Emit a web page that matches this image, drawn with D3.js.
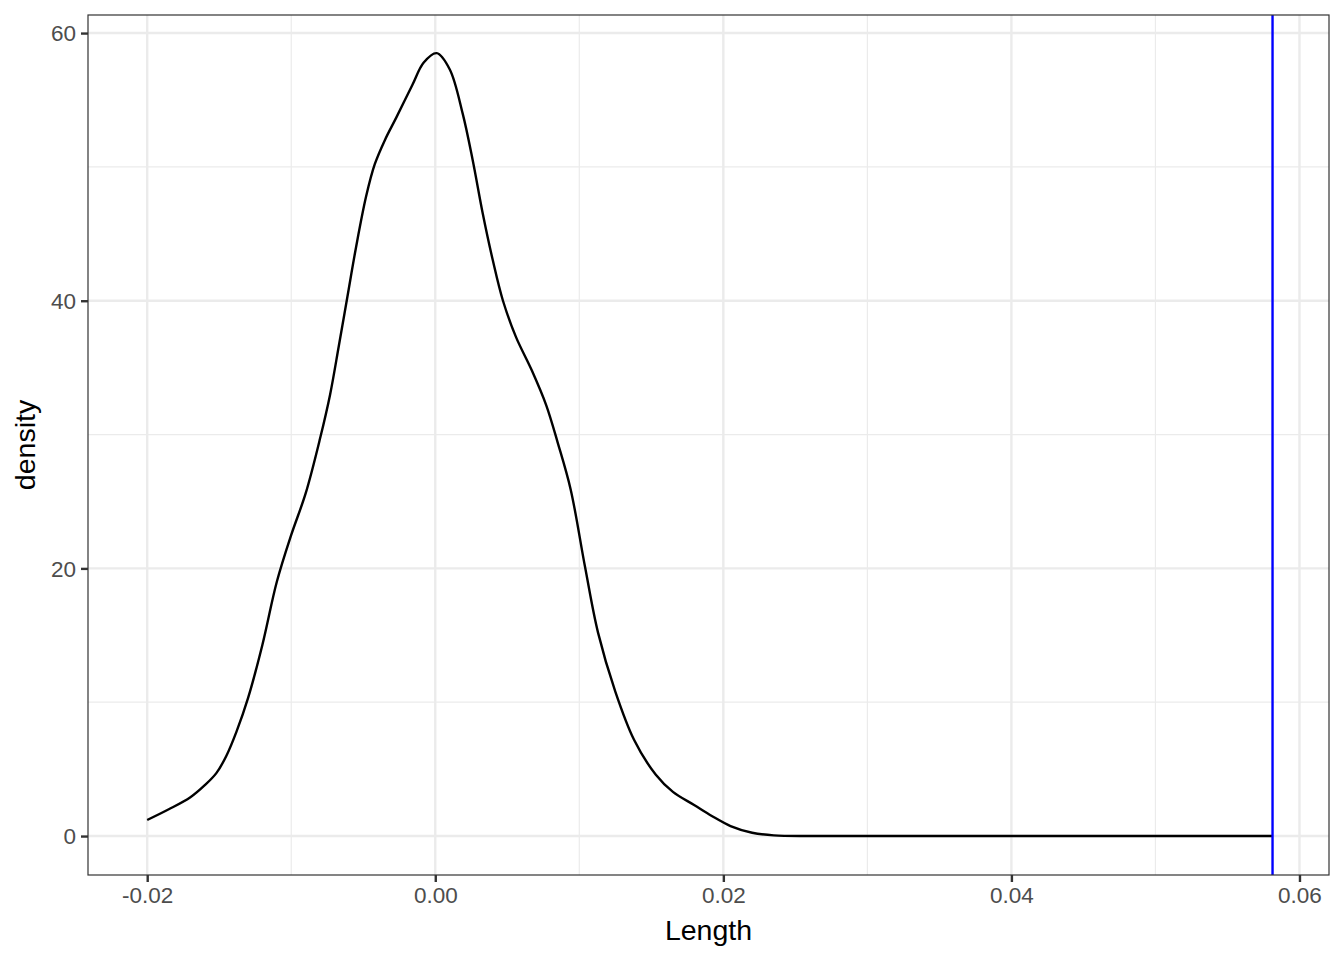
<!DOCTYPE html>
<html>
<head>
<meta charset="utf-8">
<script src="https://cdn.jsdelivr.net/npm/d3@7"></script>
<style>
  body { margin: 0; background: #fff; }
  text { font-family: "Liberation Sans", Arial, sans-serif; }
</style>
</head>
<body>
<div id="main"></div>
<script>
// density estimate
var lengthX = [-0.0200, -0.0185, -0.0170, -0.0160, -0.0152, -0.0145, -0.0138, -0.0130, -0.0120, -0.0110,
  -0.0100, -0.0090, -0.0080, -0.0073, -0.0067, -0.0061, -0.0055, -0.0048, -0.0042, -0.0035,
  -0.0027, -0.0016, -0.0008, 0.0001, 0.0010, 0.0019, 0.0026, 0.0033, 0.0040,
  0.0047, 0.0056, 0.0067, 0.0077, 0.0085, 0.0094, 0.0104, 0.0113, 0.0125, 0.0138,
  0.0153, 0.0165, 0.0180, 0.0192, 0.0205, 0.0220, 0.0235, 0.0260, 0.0300, 0.0400,
  0.0500, 0.0581]
var densityY = [1.2, 2.0, 2.9, 3.8, 4.7, 6.0, 7.8, 10.3, 14.3, 19.0,
  22.5, 25.6, 29.7, 33.0, 36.6, 40.3, 44.0, 47.8, 50.2, 52.0,
  53.7, 56.1, 57.8, 58.5, 57.3, 54.0, 50.5, 46.5, 43.0,
  40.0, 37.3, 34.8, 32.2, 29.4, 25.9, 20.1, 15.2, 10.8, 7.2,
  4.6, 3.3, 2.3, 1.5, 0.75, 0.25, 0.05, 0, 0, 0,
  0, 0]
var observed = 0.05813

var xTicks = [-0.02, 0.00, 0.02, 0.04, 0.06]
var xMinor = [-0.01, 0.01, 0.03, 0.05]
var yTicks = [0, 20, 40, 60]
var yMinor = [10, 30, 50]

var W = 1344, H = 960
var margin = { top: 15, left: 88, right: 15, bottom: 85 }
var w = W - margin.left - margin.right,
    h = H - margin.top - margin.bottom

var x = d3.scaleLinear().domain([-0.02411, 0.06205]).range([0, w])
var y = d3.scaleLinear().domain([-2.91, 61.35]).range([h, 0])

var svg = d3.select("#main")
  .append("svg")
  .attr("width", W)
  .attr("height", H)

var g = svg.append("g")
  .attr("transform", "translate(" + margin.left + "," + margin.top + ")")

// minor grid
g.selectAll(".xminor").data(xMinor).enter().append("line")
  .attr("x1", d => x(d)).attr("x2", d => x(d))
  .attr("y1", 0).attr("y2", h)
  .attr("stroke", "#ebebeb").attr("stroke-width", 1.2)
g.selectAll(".yminor").data(yMinor).enter().append("line")
  .attr("y1", d => y(d)).attr("y2", d => y(d))
  .attr("x1", 0).attr("x2", w)
  .attr("stroke", "#ebebeb").attr("stroke-width", 1.2)

// major grid
g.selectAll(".xmajor").data(xTicks).enter().append("line")
  .attr("x1", d => x(d)).attr("x2", d => x(d))
  .attr("y1", 0).attr("y2", h)
  .attr("stroke", "#ebebeb").attr("stroke-width", 2.4)
g.selectAll(".ymajor").data(yTicks).enter().append("line")
  .attr("y1", d => y(d)).attr("y2", d => y(d))
  .attr("x1", 0).attr("x2", w)
  .attr("stroke", "#ebebeb").attr("stroke-width", 2.4)

// density curve
var pts = lengthX.map(function(v, i) { return [v, densityY[i]] })
var line = d3.line()
  .x(d => x(d[0]))
  .y(d => y(d[1]))
  .curve(d3.curveCatmullRom.alpha(0.5))

g.append("path")
  .datum(pts)
  .attr("d", line)
  .attr("fill", "none")
  .attr("stroke", "#000")
  .attr("stroke-width", 2.4)

// observed value
g.append("line")
  .attr("x1", x(observed)).attr("x2", x(observed))
  .attr("y1", 0).attr("y2", h)
  .attr("stroke", "#0000ff")
  .attr("stroke-width", 2.4)

// panel border
g.append("rect")
  .attr("width", w).attr("height", h)
  .attr("fill", "none")
  .attr("stroke", "#333333")
  .attr("stroke-width", 1.2)

// axes
var xAxis = g.append("g")
  .attr("transform", "translate(0," + h + ")")
  .call(d3.axisBottom(x).tickValues(xTicks).tickFormat(d3.format(".2f")).tickSize(7).tickPadding(5))
var yAxis = g.append("g")
  .call(d3.axisLeft(y).tickValues(yTicks).tickSize(7).tickPadding(5))

;[xAxis, yAxis].forEach(function(a) {
  a.select(".domain").remove()
  a.selectAll(".tick line").attr("stroke", "#333333").attr("stroke-width", 2.4)
  a.selectAll(".tick text")
    .attr("fill", "#4d4d4d")
    .style("font-size", "22.5px")
    .style("font-family", "Liberation Sans, Arial, sans-serif")
})
xAxis.selectAll(".tick text").text(d => d3.format(".2f")(d).replace("−", "-"))
yAxis.selectAll(".tick text").attr("dy", "0.35em")

// axis titles
svg.append("text")
  .attr("x", margin.left + w / 2)
  .attr("y", 940)
  .attr("text-anchor", "middle")
  .style("font-size", "28.5px")
  .attr("fill", "#000")
  .text("Length")

svg.append("text")
  .attr("transform", "translate(35," + (margin.top + h / 2) + ") rotate(-90)")
  .attr("text-anchor", "middle")
  .style("font-size", "28.5px")
  .attr("fill", "#000")
  .text("density")
</script>
</body>
</html>
